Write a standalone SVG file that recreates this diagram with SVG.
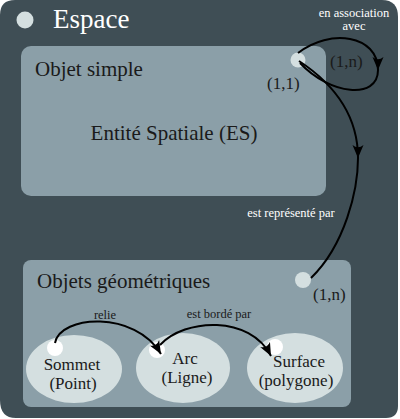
<svg xmlns="http://www.w3.org/2000/svg" width="400" height="419" viewBox="0 0 400 419">
  <style>
    text { font-family: "Liberation Serif", "Times New Roman", "DejaVu Serif", serif; fill: #1a1a1a; }
    .title { fill: #ffffff; font-size: 27px; }
    .h { font-size: 21px; }
    .card { font-size: 17px; }
    .lbl { font-size: 12.5px; }
    .light { fill: #ffffff; }
    .ell { fill: #d4dfe0; }
    .panel { fill: #8b9fa8; }
    .dot { fill: #d4dfe0; }
    .wdot { fill: #ffffff; }
    .conn { fill: none; stroke: #000; stroke-width: 2; }
  </style>
  <defs>
    <marker id="arr" viewBox="-13 -6 14 12" refX="0" refY="0" markerWidth="14" markerHeight="12" markerUnits="userSpaceOnUse" orient="auto">
      <path d="M0,0 L-13,-5.5 Q-8.5,0 -13,5.5 Z" fill="#000"/>
    </marker>
  </defs>

  <g id="espace">
    <path d="M15,0 H382 Q398,0 398,17 V406 Q398,418 386,418 H16 Q0,418 0,400 V15 Q0,0 15,0 Z" fill="#3f4e55"/>
    <circle class="dot" cx="25" cy="20" r="8.5"/>
    <text class="title" x="53" y="28">Espace</text>
  </g>

  <g id="objet-simple">
    <rect class="panel" x="21" y="46" width="305" height="150" rx="10"/>
    <circle class="dot" cx="298" cy="60" r="7.5"/>
    <text class="h" x="35" y="76">Objet simple</text>
    <text class="h" x="174" y="140" text-anchor="middle">Entité Spatiale (ES)</text>
    <text class="card" x="267" y="89">(1,1)</text>
  </g>

  <g id="objets-geometriques">
    <rect class="panel" x="23" y="260" width="328" height="147" rx="8"/>
    <circle class="dot" cx="303" cy="280" r="8"/>
    <text class="h" x="37" y="288">Objets géométriques</text>
    <text class="card" x="313" y="300">(1,n)</text>
  </g>

  <g id="sommet">
    <ellipse class="ell" cx="74" cy="369" rx="48" ry="34"/>
    <circle class="wdot" cx="55" cy="348" r="8"/>
    <text class="card" x="72" y="370" text-anchor="middle">Sommet</text>
    <text class="card" x="73" y="389" text-anchor="middle">(Point)</text>
  </g>

  <g id="arc">
    <ellipse class="ell" cx="183" cy="368" rx="47" ry="35"/>
    <circle class="wdot" cx="157" cy="350" r="8"/>
    <text class="card" x="185" y="364" text-anchor="middle">Arc</text>
    <text class="card" x="187" y="383" text-anchor="middle">(Ligne)</text>
  </g>

  <g id="surface">
    <ellipse class="ell" cx="295" cy="368" rx="48" ry="35"/>
    <circle class="wdot" cx="275" cy="347" r="8"/>
    <text class="card" x="299" y="367" text-anchor="middle">Surface</text>
    <text class="card" x="296" y="386" text-anchor="middle">(polygone)</text>
  </g>

  <g id="connectors">
    <path class="conn" d="M298,53 C330,28 378,35 378,70 C378,100 330,95 300,63" marker-mid="url(#arr)"/>
    <text class="lbl light" x="354" y="17" text-anchor="middle">en association</text>
    <text class="lbl light" x="354" y="30" text-anchor="middle">avec</text>
    <text class="card" x="330" y="67">(1,n)</text>

    <path class="conn" d="M299,61 C340,88 358,120 358,158 C358,190 345,245 311,278" marker-mid="url(#arr)"/>
    <text class="lbl light" x="291" y="217" text-anchor="middle">est représenté par</text>

    <path class="conn" d="M55,343 C60,315 135,310 161,354" marker-end="url(#arr)"/>
    <text class="lbl" x="105" y="319" text-anchor="middle">relie</text>

    <path class="conn" d="M160,345 C185,318 250,315 271,356" marker-end="url(#arr)"/>
    <text class="lbl" x="219" y="318" text-anchor="middle">est bordé par</text>
  </g>
</svg>
